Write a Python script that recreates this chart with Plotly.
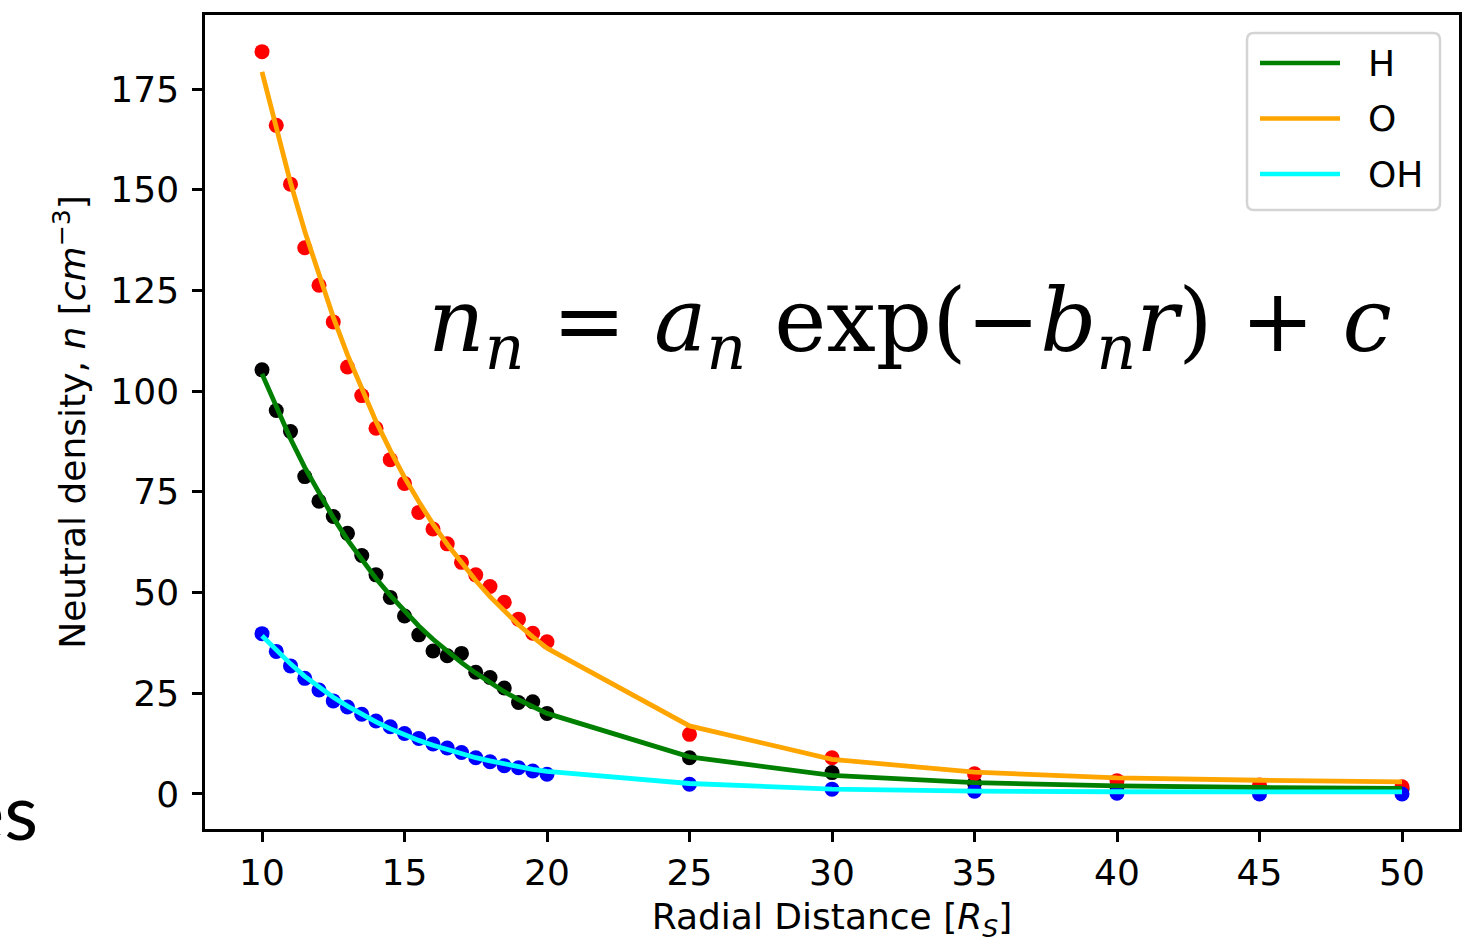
import plotly.graph_objects as go

# ---------------- data ----------------
radial = [10, 10.5, 11, 11.5, 12, 12.5, 13, 13.5, 14, 14.5, 15, 15.5, 16, 16.5,
          17, 17.5, 18, 18.5, 19, 19.5, 20, 25, 30, 35, 40, 45, 50]

h_obs = [105.3, 95.2, 90.0, 78.8, 72.7, 68.9, 64.7, 59.2, 54.4, 48.8, 44.2, 39.5,
         35.5, 34.3, 34.9, 30.2, 28.9, 26.3, 22.7, 22.9, 20.0,
         9.0, 5.3, 2.7, 1.8, 1.3, 1.1]
o_obs = [184.3, 166.0, 151.4, 135.6, 126.3, 117.2, 106.0, 98.9, 90.8, 83.0, 77.1, 69.9,
         65.8, 62.1, 57.5, 54.4, 51.5, 47.6, 43.4, 39.9, 37.8,
         14.8, 9.0, 5.0, 3.3, 2.2, 1.8]
oh_obs = [39.8, 35.4, 31.8, 28.7, 25.8, 23.1, 21.6, 19.8, 18.1, 16.7, 15.0, 13.8,
          12.4, 11.4, 10.3, 9.0, 8.0, 7.0, 6.5, 5.7, 4.9,
          2.4, 1.2, 0.7, 0.2, 0.0, 0.0]

h_fit = [104.3, 95.9, 88.2, 81.1, 74.6, 68.6, 63.1, 58.1, 53.5, 49.3, 45.3, 41.7,
         38.4, 35.4, 32.6, 30.0, 27.6, 25.4, 23.4, 21.6, 20.0,
         9.2, 4.6, 2.8, 2.0, 1.6, 1.4]
o_fit = [179.3, 165.0, 151.8, 139.7, 128.6, 118.4, 109.0, 100.4, 92.5, 85.3, 78.6, 72.6,
         67.0, 62.0, 57.3, 53.0, 49.0, 45.4, 42.0, 39.0, 36.2,
         16.9, 8.6, 5.4, 4.0, 3.4, 3.0]
oh_fit = [39.3, 35.6, 32.3, 29.2, 26.5, 24.0, 21.8, 19.7, 17.9, 16.2, 14.7, 13.3,
          12.1, 11.0, 9.9, 9.0, 8.2, 7.4, 6.8, 6.1, 5.6,
          2.6, 1.2, 0.7, 0.55, 0.5, 0.5]

x_ticks = [10, 15, 20, 25, 30, 35, 40, 45, 50]
y_ticks = [0, 25, 50, 75, 100, 125, 150, 175]
legend_names = ["H", "O", "OH"]
fit_colors = ["#008000", "#ffa500", "#00ffff"]
obs_colors = ["#000000", "#ff0000", "#0000ff"]

# ---------------- layout geometry (pixels) ----------------
W, H = 1481, 943
L, R, T, B = 205, 22, 15, 114
PW, PH = W - L - R, H - T - B


def px(x):
    return (x - L) / PW


def py(y):
    return (H - B - y) / PH


FONT = "DejaVu Sans"
fig = go.Figure()

for obs, col in zip([h_obs, o_obs, oh_obs], obs_colors):
    fig.add_trace(go.Scatter(x=radial, y=obs, mode="markers",
                             marker=dict(color=col, size=15, line=dict(width=0)),
                             showlegend=False, cliponaxis=False))

for fit, col, name in zip([h_fit, o_fit, oh_fit], fit_colors, legend_names):
    fig.add_trace(go.Scatter(x=radial, y=fit, mode="lines", name=name,
                             line=dict(color=col, width=4.8),
                             showlegend=False))

# ---------------- manual legend ----------------
bx0, bx1, by0, by1, rr = 1247, 1440, 33, 210, 7
path = (f"M {px(bx0 + rr)} {py(by0)} L {px(bx1 - rr)} {py(by0)} "
        f"Q {px(bx1)} {py(by0)} {px(bx1)} {py(by0 + rr)} "
        f"L {px(bx1)} {py(by1 - rr)} Q {px(bx1)} {py(by1)} {px(bx1 - rr)} {py(by1)} "
        f"L {px(bx0 + rr)} {py(by1)} Q {px(bx0)} {py(by1)} {px(bx0)} {py(by1 - rr)} "
        f"L {px(bx0)} {py(by0 + rr)} Q {px(bx0)} {py(by0)} {px(bx0 + rr)} {py(by0)} Z")
shapes = [dict(type="path", path=path, xref="paper", yref="paper",
               fillcolor="rgba(255,255,255,0.85)",
               line=dict(color="#d4d4d4", width=2.5), layer="above")]
annotations = []
for i, (name, col) in enumerate(zip(legend_names, fit_colors)):
    yy = 63 + i * 55.5
    shapes.append(dict(type="line", xref="paper", yref="paper",
                       x0=px(1260), x1=px(1340), y0=py(yy), y1=py(yy),
                       line=dict(color=col, width=4.5), layer="above"))
    annotations.append(dict(text=name, xref="paper", yref="paper",
                            x=px(1366), y=py(yy), xanchor="left", yanchor="middle",
                            showarrow=False, font=dict(family=FONT, size=36, color="black")))

# equation
annotations.append(dict(
    text=("<i>n</i><sub><i>n</i></sub> = <i>a</i><sub><i>n</i></sub> exp(−"
          "<i>b</i><sub><i>n</i></sub><i>r</i>) + <i>c</i>"),
    xref="paper", yref="paper", x=px(910), y=py(327), xanchor="center", yanchor="middle",
    showarrow=False, font=dict(family="DejaVu Serif", size=88, color="black")))

# slide text fragment at left
annotations.append(dict(text="es", xref="paper", yref="paper", x=px(40), y=py(810),
                        xanchor="right", yanchor="middle", showarrow=False,
                        font=dict(family="Lato", size=78, color="black")))

fig.update_layout(
    width=W, height=H,
    margin=dict(l=L, r=R, t=T, b=B, autoexpand=False),
    paper_bgcolor="white", plot_bgcolor="white",
    shapes=shapes, annotations=annotations,
    showlegend=False,
    font=dict(family=FONT, size=36, color="black"),
    xaxis=dict(range=[8, 52], tickvals=x_ticks, ticktext=[str(v) for v in x_ticks],
               showgrid=False, zeroline=False, showline=True, linecolor="black",
               linewidth=2.5, mirror=True, ticks="outside", ticklen=10, tickwidth=2.5,
               tickcolor="black", ticklabelstandoff=0,
               tickfont=dict(family=FONT, size=36, color="black"),
               title=dict(text="Radial Distance [<i>R</i><sub><i>S</i></sub>]",
                          font=dict(family=FONT, size=36, color="black"), standoff=30)),
    yaxis=dict(range=[-8.7, 193.4], tickvals=y_ticks, ticktext=[str(v) for v in y_ticks],
               showgrid=False, zeroline=False, showline=True, linecolor="black",
               linewidth=2.5, mirror=True, ticks="outside", ticklen=10, tickwidth=2.5,
               tickcolor="black", ticklabelstandoff=6,
               tickfont=dict(family=FONT, size=36, color="black"),
               title=dict(text="Neutral density, <i>n</i> [<i>cm</i><sup>−3</sup>]",
                          font=dict(family=FONT, size=36, color="black"), standoff=14)),
)

fig.write_html("out.html")
